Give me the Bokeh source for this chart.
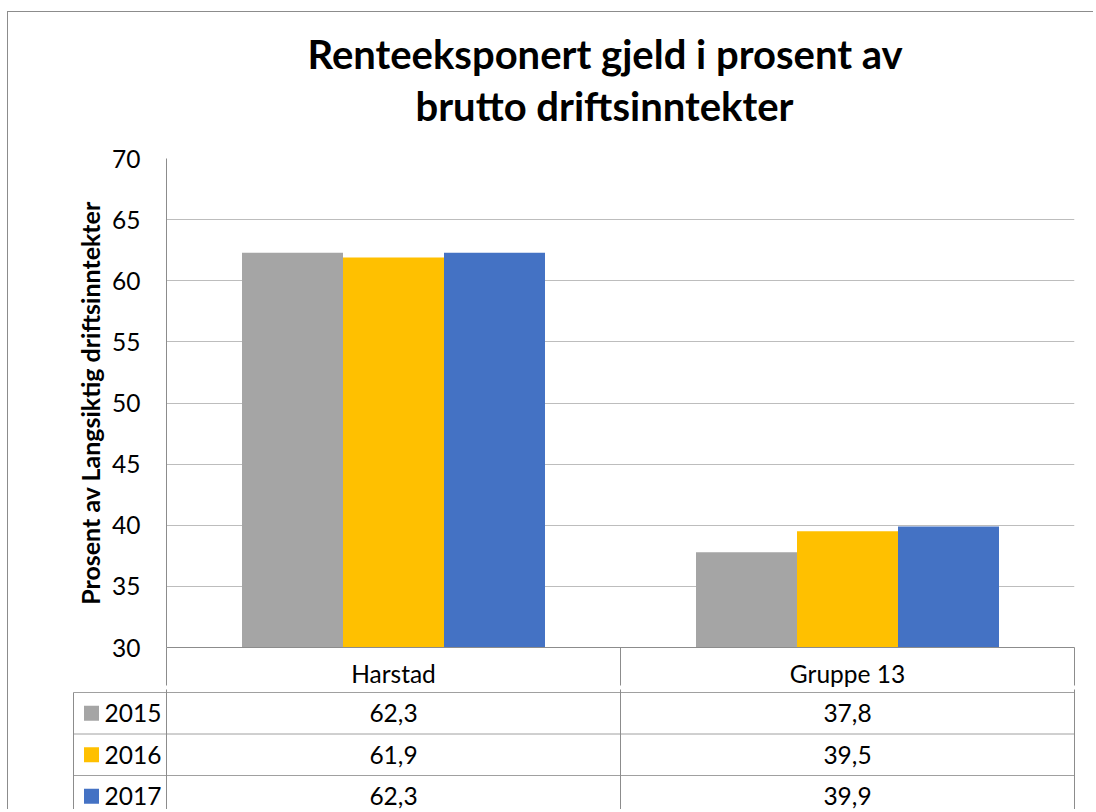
from bokeh.plotting import figure
from bokeh.models import Range1d, FixedTicker, Title, ColumnDataSource
from bokeh.core.properties import value
from bokeh.embed import file_html
from bokeh.resources import INLINE

# ---- data ----
CATEGORIES = ["Harstad", "Gruppe 13"]
YEARS = ["2015", "2016", "2017"]
VALUES_2015 = [62.3, 37.8]
VALUES_2016 = [61.9, 39.5]
VALUES_2017 = [62.3, 39.9]
Y_TICKS = [30, 35, 40, 45, 50, 55, 60, 65, 70]
TITLE_LINES = ["Renteeksponert gjeld i prosent av", "brutto driftsinntekter"]
Y_LABEL = "Prosent av Langsiktig driftsinntekter"

SERIES = [VALUES_2015, VALUES_2016, VALUES_2017]
COLORS = ["#A5A5A5", "#FFC000", "#4472C4"]

# ---- style ----
FONT = "Lato"
GRID = "#BDBDBD"
LINE = "#8C8C8C"
TXT = "#000000"
FS = "24.5px"
CAT_PX = 454.0          # pixel width of one category
BAR_W = 101 / CAT_PX    # bar width in category units
ROW_PX = 41.5
n = len(CATEGORIES)
BORDER = "1px solid #8C8C8C"

# ---------------- chart figure ----------------
pA = figure(width=1086, height=678,
            x_range=Range1d(0, n), y_range=Range1d(Y_TICKS[0], Y_TICKS[-1]),
            output_backend="svg", toolbar_location=None, title=None,
            min_border_left=158, min_border_right=20,
            min_border_top=146, min_border_bottom=38,
            margin=(11, 0, 0, 7),
            styles={"border-left": BORDER, "border-top": BORDER})
pA.outline_line_color = None
pA.background_fill_color = "white"
pA.border_fill_color = "white"

for j, (vals, col) in enumerate(zip(SERIES, COLORS)):
    xs = [i + 0.5 + (j - 1) * BAR_W for i in range(n)]
    src = ColumnDataSource(dict(x=xs, top=vals, cat=CATEGORIES))
    pA.vbar(x="x", top="top", bottom=Y_TICKS[0], width=BAR_W,
            fill_color=col, line_color=None, source=src)

yticker = FixedTicker(ticks=Y_TICKS)
ya = pA.yaxis[0]
ya.ticker = yticker
ya.major_tick_out = 0
ya.major_tick_in = 0
ya.minor_tick_out = 0
ya.minor_tick_in = 0
ya.axis_line_color = LINE
ya.major_label_text_font = FONT
ya.major_label_text_font_size = FS
ya.major_label_text_color = TXT
ya.major_label_standoff = 26
ya.axis_label = Y_LABEL
ya.axis_label_text_font = FONT
ya.axis_label_text_font_style = "bold"
ya.axis_label_text_font_size = "25px"
ya.axis_label_text_color = TXT
ya.axis_label_standoff = 4

pA.ygrid.ticker = yticker
pA.ygrid.grid_line_color = GRID
pA.xgrid.visible = False

xa = pA.xaxis[0]
xa.ticker = FixedTicker(ticks=[i + 0.5 for i in range(n)],
                        minor_ticks=list(range(n + 1)))
xa.major_label_overrides = {i + 0.5: c for i, c in enumerate(CATEGORIES)}
xa.major_tick_out = 0
xa.major_tick_in = 0
xa.minor_tick_in = 0
xa.minor_tick_out = 38
xa.minor_tick_line_color = LINE
xa.axis_line_color = LINE
xa.major_label_text_font = FONT
xa.major_label_text_font_size = FS
xa.major_label_text_color = TXT
xa.major_label_standoff = -27

# title: spacer (closest to frame), then the two lines
spacer = Title(text=" ", text_font=FONT, text_font_size="16px", standoff=7)
t2 = Title(text=TITLE_LINES[1], align="left", offset=249,
           text_font=FONT, text_font_size="40px", text_font_style="bold",
           text_color=TXT, standoff=2)
t1 = Title(text=TITLE_LINES[0], align="left", offset=141,
           text_font=FONT, text_font_size="40px", text_font_style="bold",
           text_color=TXT, standoff=2)
pA.add_layout(spacer, "above")
pA.add_layout(t2, "above")
pA.add_layout(t1, "above")

# ---------------- data table figure ----------------
LEFT_EDGE = -93 / CAT_PX
pB_h = 120
pB = figure(width=1086, height=pB_h,
            x_range=Range1d(-94 / CAT_PX, n + 2 / CAT_PX),
            y_range=Range1d(start=(pB_h - 3) / ROW_PX, end=-3 / ROW_PX),
            output_backend="svg", toolbar_location=None, title=None,
            x_axis_location=None, y_axis_location=None,
            min_border_left=64, min_border_right=18,
            min_border_top=0, min_border_bottom=0,
            margin=(0, 0, 0, 7),
            styles={"border-left": BORDER})
pB.outline_line_color = None
pB.background_fill_color = "white"
pB.border_fill_color = "white"
pB.grid.visible = False

nrows = len(YEARS)
pB.segment(x0=[LEFT_EDGE] * (nrows + 1), y0=list(range(nrows + 1)),
           x1=[n] * (nrows + 1), y1=list(range(nrows + 1)),
           line_color="#A0A0A0", line_width=1)
vx = [LEFT_EDGE] + list(range(n + 1))
pB.segment(x0=vx, y0=[0] + [-0.1] * (n + 1), x1=vx, y1=[nrows + 1] * len(vx),
           line_color=LINE, line_width=1)

pB.scatter(x=[LEFT_EDGE + 18 / CAT_PX] * nrows, y=[r + 0.5 for r in range(nrows)],
           marker="square", size=15, fill_color=COLORS, line_color=None)
pB.text(x=[LEFT_EDGE + 31 / CAT_PX] * nrows, y=[r + 0.5 for r in range(nrows)],
        text=YEARS, text_font=value(FONT), text_font_size=FS,
        text_color=TXT, text_align="left", text_baseline="middle")

tx, ty, tt = [], [], []
for r, vals in enumerate(SERIES):
    for i, v in enumerate(vals):
        tx.append(i + 0.5)
        ty.append(r + 0.5)
        tt.append(f"{v:.1f}".replace(".", ","))
pB.text(x=tx, y=ty, text=tt, text_font=value(FONT), text_font_size=FS,
        text_color=TXT, text_align="center", text_baseline="middle")

open("out.html", "w").write(file_html([pA, pB], INLINE))
